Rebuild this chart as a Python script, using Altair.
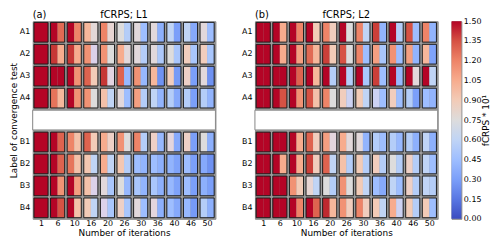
import altair as alt
import pandas as pd

ITERS = ["1", "6", "10", "16", "20", "26", "30", "36", "40", "46", "50"]
ROWS = ["A1", "A2", "A3", "A4", " ", "B1", "B2", "B3", "B4"]
DATA_ROWS = ["A1", "A2", "A3", "A4", "B1", "B2", "B3", "B4"]

# two sub-cells (left, right) per iteration block
L1_A1 = [1.6, 1.6, 1.55, 1.28, 1.55, 1.2, 1.0, 0.78, 1.2, 0.8, 0.75, 0.55, 0.72, 0.45, 0.72, 0.38, 0.6, 0.3, 0.6, 0.35, 0.72, 0.45]
L1_A2 = [1.6, 1.6, 1.42, 1.05, 1.42, 1.05, 1.15, 0.65, 1.15, 0.75, 1.05, 0.72, 0.72, 0.55, 0.72, 0.52, 0.75, 0.5, 0.88, 0.5, 0.88, 0.5]
L1_A3 = [1.6, 1.6, 1.6, 1.6, 1.55, 1.15, 1.3, 0.9, 1.42, 0.68, 1.3, 0.42, 1.15, 0.42, 1.0, 0.25, 0.88, 0.28, 0.85, 0.3, 0.72, 0.25]
L1_A4 = [1.6, 1.6, 1.25, 1.0, 1.55, 1.15, 1.15, 0.75, 0.95, 0.6, 0.72, 0.45, 1.1, 0.55, 0.6, 0.4, 0.55, 0.35, 0.55, 0.3, 0.55, 0.4]
L1_B1 = [1.6, 1.6, 1.55, 1.3, 1.2, 0.95, 1.3, 0.9, 1.05, 0.85, 1.15, 0.75, 1.2, 0.55, 0.85, 0.42, 0.7, 0.35, 0.85, 0.3, 0.75, 0.38]
L1_B2 = [1.6, 1.6, 1.55, 1.3, 1.25, 0.95, 0.92, 0.6, 1.05, 0.6, 0.92, 0.55, 0.45, 0.4, 0.45, 0.38, 0.4, 0.32, 0.45, 0.3, 0.35, 0.25]
L1_B3 = [1.6, 1.6, 1.55, 1.15, 1.55, 1.1, 0.95, 0.65, 0.72, 0.5, 0.75, 0.42, 0.5, 0.4, 0.5, 0.38, 0.42, 0.32, 0.45, 0.3, 0.38, 0.3]
L1_B4 = [1.6, 1.6, 1.55, 1.35, 1.5, 0.95, 0.9, 0.6, 0.65, 0.5, 0.85, 0.5, 0.72, 0.45, 0.7, 0.38, 0.45, 0.35, 0.42, 0.28, 0.55, 0.38]

L2_A1 = [1.6, 1.6, 1.55, 1.05, 1.55, 1.2, 1.55, 0.9, 1.2, 0.88, 1.55, 0.75, 1.2, 0.6, 1.4, 0.4, 1.55, 0.55, 1.35, 0.45, 1.2, 0.4]
L2_A2 = [1.6, 1.6, 1.55, 1.05, 1.55, 1.1, 1.28, 1.0, 1.4, 0.9, 1.35, 0.75, 1.2, 0.45, 1.1, 0.5, 1.15, 0.45, 1.1, 0.4, 1.0, 0.32]
L2_A3 = [1.6, 1.6, 1.6, 1.6, 1.55, 1.3, 1.55, 1.0, 1.55, 0.55, 1.55, 0.55, 1.55, 0.5, 1.4, 0.45, 1.55, 0.42, 1.5, 0.72, 1.55, 0.6]
L2_A4 = [1.6, 1.6, 1.55, 1.35, 1.55, 1.15, 1.35, 0.95, 1.2, 0.75, 0.88, 0.62, 0.9, 0.6, 0.62, 0.45, 0.88, 0.45, 0.55, 0.3, 0.45, 0.4]
L2_B1 = [1.6, 1.6, 1.6, 1.6, 1.55, 1.05, 1.3, 0.88, 1.1, 0.7, 1.05, 0.72, 0.72, 0.4, 0.55, 0.45, 0.55, 0.42, 0.55, 0.38, 0.6, 0.38]
L2_B2 = [1.6, 1.6, 1.5, 1.05, 1.55, 1.05, 1.4, 0.88, 1.3, 0.6, 0.95, 0.55, 0.9, 0.55, 0.88, 0.55, 0.75, 0.55, 0.85, 0.55, 0.6, 0.45]
L2_B3 = [1.6, 1.6, 1.6, 1.6, 1.15, 0.9, 0.8, 0.6, 0.75, 0.55, 1.15, 0.75, 0.9, 0.6, 0.45, 0.35, 0.6, 0.45, 0.85, 0.55, 0.6, 0.55]
L2_B4 = [1.6, 1.6, 1.6, 1.6, 1.55, 1.2, 1.55, 1.3, 1.45, 1.0, 1.15, 0.88, 1.2, 0.88, 0.9, 0.6, 1.05, 0.62, 0.9, 0.55, 0.9, 0.45]

L1 = [L1_A1, L1_A2, L1_A3, L1_A4, L1_B1, L1_B2, L1_B3, L1_B4]
L2 = [L2_A1, L2_A2, L2_A3, L2_A4, L2_B1, L2_B2, L2_B3, L2_B4]

CB_TICKS = [0.0, 0.15, 0.3, 0.45, 0.6, 0.75, 0.9, 1.05, 1.2, 1.35, 1.5]
COOLWARM = ["#3b4cc0", "#5977e3", "#7b9ff9", "#9ebeff", "#c0d4f5", "#dddcdc",
            "#f2cbb7", "#f7ac8e", "#ee8468", "#d65244", "#b40426"]

W, H = 185, 200
FONT = "DejaVu Sans"
INSET = 0.075  # gap between blocks, in block units


def make_df(rows_vals):
    recs = []
    for r, vals in zip(DATA_ROWS, rows_vals):
        for i in range(len(ITERS)):
            recs.append({"row": r, "bi": i, "sub": 0, "value": vals[2 * i]})
            recs.append({"row": r, "bi": i, "sub": 1, "value": vals[2 * i + 1]})
    return pd.DataFrame(recs)


blocks_df = pd.DataFrame([{"row": r, "bi": i} for r in DATA_ROWS for i in range(len(ITERS))])
blank_df = pd.DataFrame({"row": [" "]})

color_scale = alt.Scale(domain=CB_TICKS, range=COOLWARM, clamp=True)
label_expr = "[" + ",".join("'%s'" % s for s in ITERS) + "][floor(datum.value)]"
TICK_POS = [i + 0.5 for i in range(len(ITERS))]


def top_text(txt, xpos, align):
    return alt.Chart(pd.DataFrame({"t": [txt]})).mark_text(
        align=align, baseline="alphabetic", fontSize=10, font=FONT, color="black"
    ).encode(text="t:N", x=alt.value(xpos), y=alt.value(-3))


def panel(rows_vals, letter, title, ytitle, ytitle_pad):
    xscale = alt.Scale(domain=[0, len(ITERS)], nice=False, zero=False)
    xaxis = alt.Axis(title="Number of iterations", values=TICK_POS,
                     labelExpr=label_expr, ticks=False, grid=False,
                     labelOverlap=False, labelFlush=False,
                     domain=False, labelPadding=1, titlePadding=1)
    xenc = alt.X("x0:Q", scale=xscale, axis=xaxis)
    yaxis = alt.Axis(ticks=False, domain=False, labelPadding=3,
                     titlePadding=ytitle_pad, title=ytitle)
    yenc = alt.Y("row:N", sort=ROWS,
                 scale=alt.Scale(paddingInner=0.1, paddingOuter=0.05), axis=yaxis)

    cells = alt.Chart(make_df(rows_vals)).transform_calculate(
        x0="datum.bi + datum.sub * 0.5 + (datum.sub == 0 ? %f : 0)" % INSET,
        x1="datum.bi + 0.5 + datum.sub * 0.5 - (datum.sub == 1 ? %f : 0)" % INSET,
    ).mark_rect().encode(
        x=xenc, x2="x1:Q", y=yenc,
        color=alt.Color("value:Q", scale=color_scale, legend=None),
    )
    outline = alt.Chart(blocks_df).transform_calculate(
        x0="datum.bi + %f" % INSET, x1="datum.bi + 1 - %f" % INSET,
    ).mark_rect(fillOpacity=0, stroke="#1a1a1a", strokeWidth=1).encode(
        x=alt.X("x0:Q", scale=xscale, axis=xaxis), x2="x1:Q",
        y=alt.Y("row:N", sort=ROWS))
    blank = alt.Chart(blank_df).mark_rect(fill="white", stroke="#888888",
                                          strokeWidth=1).encode(
        y=alt.Y("row:N", sort=ROWS), x=alt.value(0), x2=alt.value(W))
    return alt.layer(cells, outline, blank,
                     top_text(letter, 0, "left"),
                     top_text(title, W / 2, "center")).properties(width=W, height=H)


chart_a = panel(L1, "(a)", "fCRPS; L1", "Label of convergence test", 1)
chart_b = panel(L2, "(b)", "fCRPS; L2", " ", 3)

cbar_rect = alt.Chart(pd.DataFrame({"lo": [0.0], "hi": [1.5]})).mark_rect(
    fill=alt.LinearGradient(
        gradient="linear",
        stops=[alt.GradientStop(color=c, offset=i / (len(COOLWARM) - 1))
               for i, c in enumerate(COOLWARM)],
        x1=0, x2=0, y1=1, y2=0)
).encode(
    y=alt.Y("lo:Q", scale=alt.Scale(domain=[0, 1.5], nice=False, zero=False),
            axis=alt.Axis(orient="right", values=CB_TICKS, format=".2f",
                          title="fCRPS * 10\u00b9", titleAngle=270,
                          titleBaseline="top", grid=False, labelOverlap=False,
                          domain=False, ticks=False, labelPadding=2, titlePadding=1,
                          labelFontSize=8)),
    y2="hi:Q",
    x=alt.value(0),
    x2=alt.value(10),
)
cbar = alt.layer(cbar_rect, top_text(" ", 0, "left")).properties(width=10, height=H)

chart = alt.hconcat(chart_a, chart_b, cbar, spacing=12).properties(
    padding={"left": 0, "top": 0, "right": 0, "bottom": 0}
).configure(font=FONT).configure_axis(
    labelFont=FONT, titleFont=FONT, labelFontSize=8, titleFontSize=9,
    titleFontWeight="normal", labelColor="black", titleColor="black", grid=False,
    labelOverlap=False
).configure_view(fill="#9c9c9c", stroke="#8a8a8a")

chart.save("out.html", embed_options={"renderer": "svg", "actions": False})
